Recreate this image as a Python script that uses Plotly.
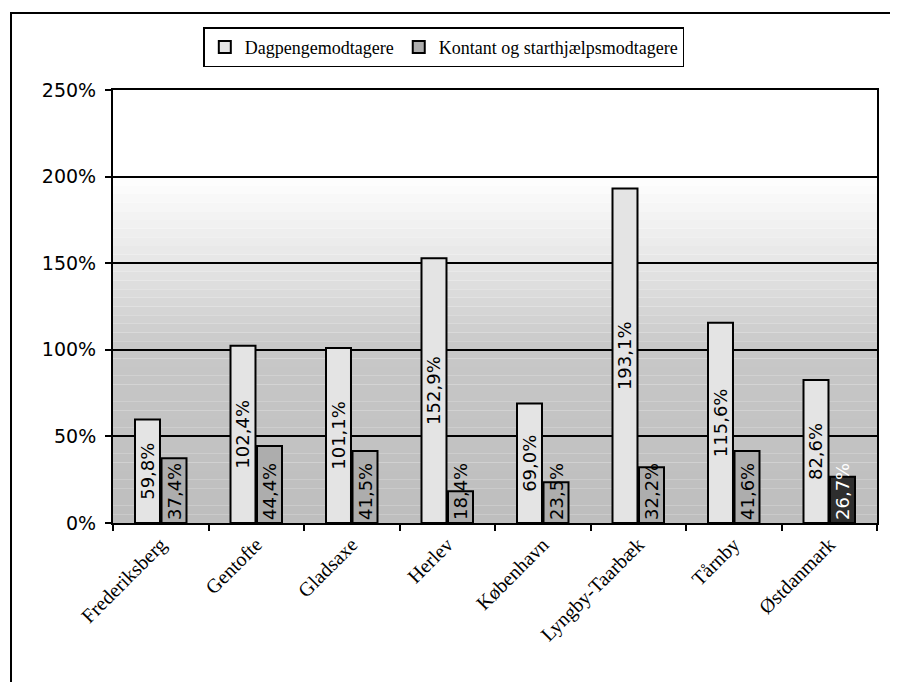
import plotly.graph_objects as go

categories = ["Frederiksberg", "Gentofte", "Gladsaxe", "Herlev", "København",
              "Lyngby-Taarbæk", "Tårnby", "Østdanmark"]
dagpenge = [59.8, 102.4, 101.1, 152.9, 69.0, 193.1, 115.6, 82.6]
kontant = [37.4, 44.4, 41.5, 18.4, 23.5, 32.2, 41.6, 26.7]
series_names = ["Dagpengemodtagere", "Kontant og starthjælpsmodtagere"]
y_tickvals = [0, 50, 100, 150, 200, 250]
y_ticktext = ["0%", "50%", "100%", "150%", "200%", "250%"]


def fmt(v):
    return f"{v:.1f}".replace(".", ",") + "%"


kontant_colors = ["#adadad"] * (len(kontant) - 1) + ["#2e2e2e"]
kontant_textcolors = ["black"] * (len(kontant) - 1) + ["white"]

fig = go.Figure()
fig.add_trace(go.Bar(
    x=categories, y=dagpenge, name=series_names[0],
    marker=dict(color="#e4e4e4", line=dict(color="black", width=2)),
    text=[fmt(v) for v in dagpenge], textposition="inside",
    insidetextanchor="middle", textangle=-90, constraintext="none",
    textfont=dict(family="DejaVu Sans", size=18, color="black"),
))
fig.add_trace(go.Bar(
    x=categories, y=kontant, name=series_names[1],
    marker=dict(color=kontant_colors, line=dict(color="black", width=2)),
    text=[fmt(v) for v in kontant], textposition="inside",
    insidetextanchor="start", textangle=-90, constraintext="none",
    textfont=dict(family="DejaVu Sans", size=18, color=kontant_textcolors),
))

# dithered-looking background gradient (styling only)
shapes = []
nb = 50
for i in range(nb):
    y0 = i / nb
    y1 = (i + 1) / nb
    f = (y0 + y1) / 2  # fraction of height
    if f < 0.4:
        g = 190 + int(f / 0.4 * 10)
    elif f < 0.6:
        g = 200 + int((f - 0.4) / 0.2 * 30)
    elif f < 0.8:
        g = 230 + int((f - 0.6) / 0.2 * 25)
    else:
        g = 255
    shapes.append(dict(type="rect", xref="x domain", yref="y domain",
                       x0=0, x1=1, y0=y0, y1=y1, layer="below",
                       fillcolor=f"rgb({g},{g},{g})", line=dict(width=0)))
# outer chart border (left and top)
shapes.append(dict(type="path", xref="paper", yref="paper",
                   path="M -0.1335,-0.5 L -0.1335,1.178 L 1.2,1.178",
                   line=dict(color="black", width=2)))

fig.update_layout(
    width=898, height=682,
    margin=dict(l=105, r=29, t=82, b=167),
    paper_bgcolor="white", plot_bgcolor="white",
    font=dict(family="Liberation Serif", color="black"),
    barmode="group", bargap=0.445, bargroupgap=0.057,
    shapes=shapes,
    showlegend=True,
    legend=dict(orientation="h", x=0.433, xanchor="center", y=1.145,
                yanchor="top", bordercolor="black", borderwidth=1.5,
                bgcolor="white",
                font=dict(family="Liberation Serif", size=18, color="black"),
                tracegroupgap=0),
    xaxis=dict(showline=True, linecolor="black", linewidth=2, mirror=True,
               ticks="outside", tickson="boundaries", ticklen=6,
               tickcolor="black", tickwidth=2, tickangle=-45,
               tickfont=dict(family="Liberation Serif", size=20, color="black"),
               showgrid=False),
    yaxis=dict(range=[0, 250], tickvals=y_tickvals, ticktext=y_ticktext,
               showline=True, linecolor="black", linewidth=2, mirror=True,
               ticks="outside", ticklen=6, tickcolor="black", tickwidth=2,
               ticklabelstandoff=5,
               showgrid=True, gridcolor="black", gridwidth=2,
               zeroline=False,
               tickfont=dict(family="DejaVu Sans", size=19, color="black")),
)

fig.write_html("out.html")
